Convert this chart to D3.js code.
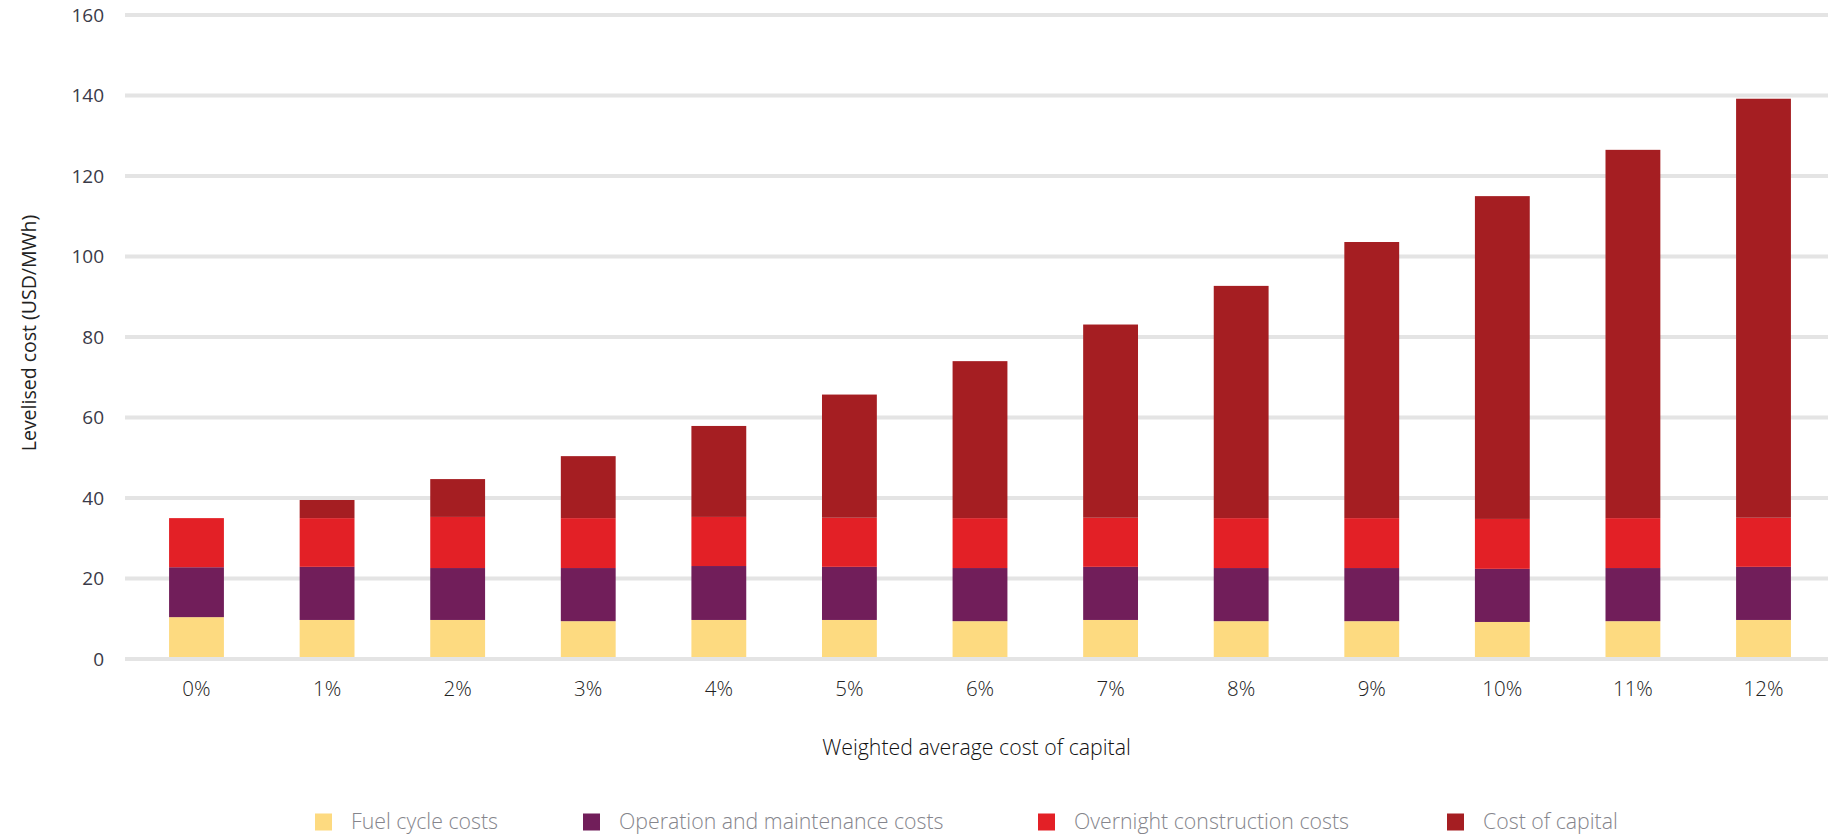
<!DOCTYPE html>
<html>
<head>
<meta charset="utf-8">
<script src="https://cdn.jsdelivr.net/npm/d3@7"></script>
<style>
  html, body { margin: 0; padding: 0; background: #ffffff; }
  svg { display: block; }
</style>
</head>
<body>
<script>
// ---- data ----
const categories = ["0%", "1%", "2%", "3%", "4%", "5%", "6%", "7%", "8%", "9%", "10%", "11%", "12%"];
const seriesNames = ["Fuel cycle costs", "Operation and maintenance costs", "Overnight construction costs", "Cost of capital"];
const fuelCycle      = [10.4, 9.7, 9.7, 9.4, 9.7, 9.7, 9.4, 9.7, 9.4, 9.4, 9.2, 9.4, 9.7];
const operationMaint = [12.4, 13.2, 12.9, 13.2, 13.4, 13.2, 13.2, 13.2, 13.2, 13.2, 13.2, 13.2, 13.2];
const overnightConst = [12.2, 12.1, 12.7, 12.4, 12.2, 12.2, 12.4, 12.2, 12.4, 12.4, 12.4, 12.4, 12.2];
const costOfCapital  = [0, 4.5, 9.4, 15.4, 22.6, 30.6, 39.0, 48.0, 57.7, 68.6, 80.2, 91.5, 104.1];
const yTicks = [0, 20, 40, 60, 80, 100, 120, 140, 160];
const colors = ["#FDDA80", "#711E5A", "#E32026", "#A51E22"];

const W = 1828, H = 837;
const svg = d3.select("body").append("svg").attr("width", W).attr("height", H);

const table = categories.map((c, i) => ({
  cat: c,
  s0: fuelCycle[i], s1: operationMaint[i], s2: overnightConst[i], s3: costOfCapital[i]
}));
const keys = ["s0", "s1", "s2", "s3"];
const stacked = d3.stack().keys(keys)(table);

const x = d3.scaleBand().domain(categories).range([131.2, 1828.8]).paddingInner(0.58).paddingOuter(0.29);
const y = d3.scaleLinear().domain([0, 160]).range([659, 15]);

const gridLeft = 125, gridRight = 1828;
const lightFont = "'Open Sans', sans-serif";

// gridlines (behind bars, except zero line)
svg.append("g").selectAll("line").data(yTicks.filter(d => d !== 0)).join("line")
  .attr("x1", gridLeft).attr("x2", gridRight)
  .attr("y1", d => y(d)).attr("y2", d => y(d))
  .attr("stroke", "#e4e4e4").attr("stroke-width", 4);

// bars
svg.append("g").selectAll("g").data(stacked).join("g")
  .attr("fill", (d, i) => colors[i])
  .selectAll("rect").data(d => d).join("rect")
  .attr("x", d => x(d.data.cat))
  .attr("width", x.bandwidth())
  .attr("y", d => y(d[1]))
  .attr("height", d => Math.max(0, y(d[0]) - y(d[1])));

// zero line
svg.append("line")
  .attr("x1", gridLeft).attr("x2", gridRight)
  .attr("y1", y(0)).attr("y2", y(0))
  .attr("stroke", "#e4e4e4").attr("stroke-width", 4);

// y tick labels
svg.append("g").selectAll("text").data(yTicks).join("text")
  .attr("x", 104).attr("y", d => y(d))
  .attr("dy", "0.35em")
  .attr("text-anchor", "end")
  .attr("font-family", "'Open Sans', sans-serif")
  .attr("font-size", 19)
  .attr("fill", "#3a3a48")
  .text(d => d);

// y axis title
svg.append("text")
  .attr("transform", `translate(36, ${y(80) - 4}) rotate(-90)`)
  .attr("text-anchor", "middle")
  .attr("font-family", "'Open Sans', sans-serif")
  .attr("font-size", 19.5)
  .attr("fill", "#222")
  .text("Levelised cost (USD/MWh)");

// x tick labels
svg.append("g").selectAll("text").data(categories).join("text")
  .attr("x", d => x(d) + x.bandwidth() / 2)
  .attr("y", 696)
  .attr("text-anchor", "middle")
  .attr("font-family", lightFont)
  .attr("font-weight", 300)
  .attr("font-size", 20.5)
  .attr("fill", "#222")
  .text(d => d);

// x axis title
svg.append("text")
  .attr("x", (gridLeft + gridRight) / 2)
  .attr("y", 755)
  .attr("text-anchor", "middle")
  .attr("font-family", lightFont)
  .attr("font-weight", 300)
  .attr("font-size", 21.3)
  .attr("fill", "#111")
  .text("Weighted average cost of capital");

// legend
const legendX = [315, 583, 1038, 1447];
const lg = svg.append("g").selectAll("g").data(seriesNames).join("g")
  .attr("transform", (d, i) => `translate(${legendX[i]}, 822)`);
lg.append("rect").attr("x", 0).attr("y", -8.5).attr("width", 17).attr("height", 17)
  .attr("fill", (d, i) => colors[i]);
lg.append("text").attr("x", 36).attr("y", 0).attr("dy", "0.35em")
  .attr("font-family", lightFont)
  .attr("font-weight", 300)
  .attr("font-size", 21.3)
  .attr("fill", "#85858c")
  .text(d => d);
</script>
</body>
</html>
